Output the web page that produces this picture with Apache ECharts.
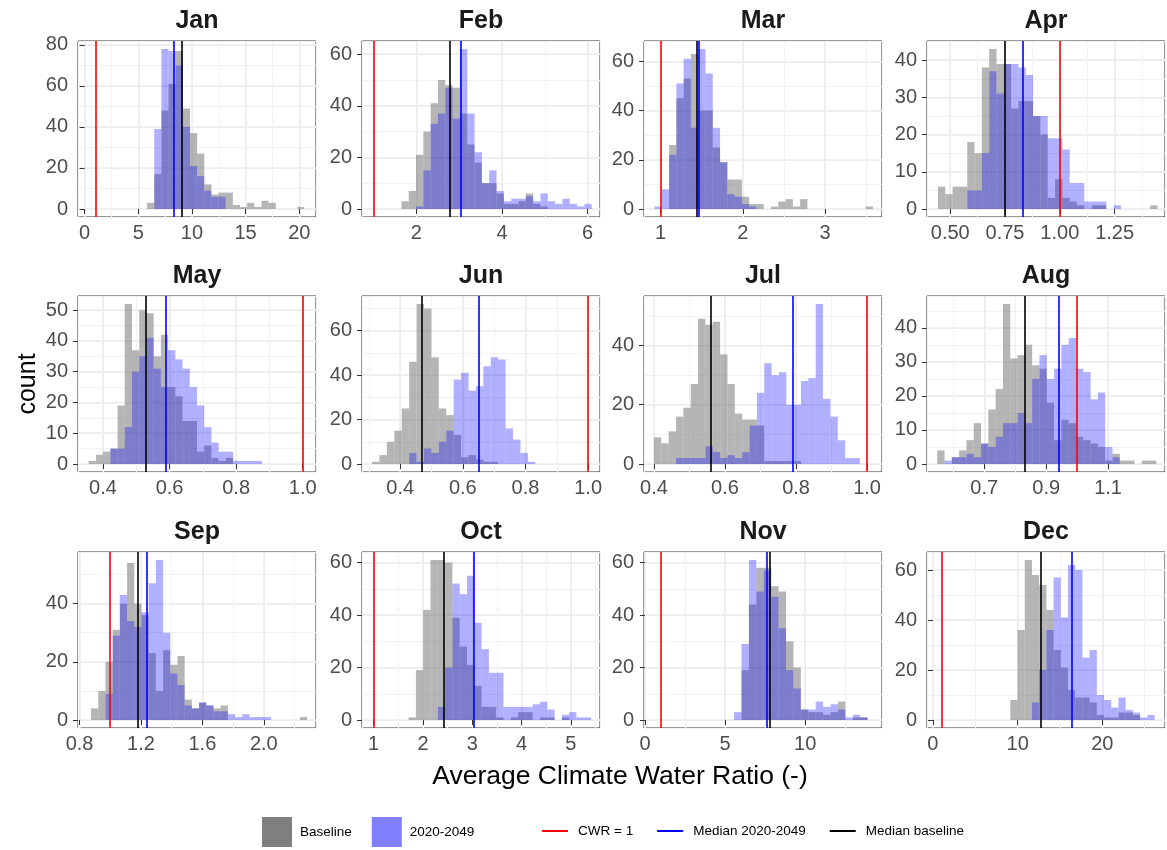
<!DOCTYPE html>
<html>
<head>
<meta charset="utf-8">
<script src="https://cdn.jsdelivr.net/npm/echarts@6/dist/echarts.min.js"></script>
<style>
  html, body { margin: 0; padding: 0; background: #fff; }
  #chart { width: 1167px; height: 850px; }
</style>
</head>
<body>
<div id="chart"></div>
<script>
const months = ['Jan', 'Feb', 'Mar', 'Apr', 'May', 'Jun', 'Jul', 'Aug', 'Sep', 'Oct', 'Nov', 'Dec'];

// left edge of the first drawn bin and the bin width, per month
const binStart = [5.82, 1.65, 0.928, 0.444, 0.357, 0.31, 0.40, 0.548, 0.875, 1.709, 5.56, 9.14];
const binWidth = [0.666, 0.171, 0.0884, 0.0334, 0.0217, 0.0237, 0.0207, 0.0236, 0.0469, 0.148, 0.463, 0.851];

// histogram counts, baseline period
const baseline = [
  [3, 17, 48, 61, 77, 49, 37, 27, 12, 7, 8, 8, 2, 1, 3, 1, 4, 3, 0, 0, 0, 1],
  [3, 7, 21, 30, 41, 50, 48, 47, 37, 25, 18, 10, 10, 6, 2, 2, 3, 6, 2, 1],
  [0, 0, 26, 45, 53, 63, 40, 40, 25, 19, 12, 12, 5, 2, 2, 0, 1, 3, 4, 1, 4, 0, 0, 0, 0, 0, 0, 0, 0, 1],
  [6, 4, 6, 6, 18, 15, 38, 43, 39, 39, 27, 29, 29, 25, 20, 3, 8, 3, 2, 1, 0, 1, 1, 0, 0, 0, 0, 0, 0, 1],
  [1, 3, 4, 5, 19, 52, 37, 50, 49, 35, 42, 25, 22, 14, 14, 4, 6, 2, 1, 2],
  [1, 4, 10, 15, 25, 46, 72, 70, 48, 25, 22, 13, 3, 4, 2, 1, 1],
  [9, 7, 11, 16, 19, 27, 49, 47, 48, 37, 27, 17, 15, 15, 13, 1, 1, 1, 1, 1],
  [4, 0, 2, 4, 7, 12, 6, 16, 22, 47, 31, 32, 35, 29, 28, 18, 7, 13, 12, 8, 7, 6, 5, 1, 3, 1, 1, 0, 1, 1],
  [4, 10, 20, 31, 40, 54, 40, 36, 23, 10, 24, 19, 22, 7, 4, 6, 5, 4, 5, 0, 0, 0, 0, 0, 0, 0, 0, 0, 0, 1],
  [1, 19, 42, 61, 61, 60, 39, 28, 21, 13, 5, 5, 1, 0, 1, 3, 3, 0, 1, 1, 0, 1],
  [0, 19, 44, 58, 58, 51, 49, 30, 20, 4, 3, 3, 2, 3, 7, 0, 1, 1],
  [8, 36, 64, 58, 54, 44, 28, 21, 12, 9, 9, 7, 2, 1, 1, 3, 3, 2]
];

// histogram counts, 2020-2049
const future = [
  [0, 39, 78, 77, 70, 40, 21, 16, 9, 6, 6],
  [0, 0, 1, 15, 33, 37, 47, 35, 62, 37, 22, 10, 15, 7, 3, 4, 4, 5, 3, 6, 3, 2, 4, 2, 1, 2],
  [1, 8, 22, 51, 61, 33, 65, 55, 33, 19, 6, 5, 2, 1],
  [0, 0, 0, 0, 5, 5, 15, 37, 31, 39, 39, 38, 36, 25, 25, 19, 19, 16, 7, 7, 2, 2, 2, 0, 1],
  [0, 0, 0, 5, 5, 12, 30, 35, 41, 31, 25, 37, 34, 31, 25, 19, 12, 7, 4, 4, 1, 1, 1, 1],
  [0, 0, 0, 0, 0, 5, 1, 7, 5, 10, 15, 38, 41, 33, 35, 44, 48, 47, 16, 11, 5, 1],
  [0, 0, 0, 2, 2, 2, 2, 6, 4, 2, 3, 2, 4, 13, 24, 34, 30, 31, 20, 20, 28, 29, 54, 22, 16, 8, 2, 2],
  [0, 1, 2, 2, 3, 2, 6, 5, 8, 12, 12, 15, 12, 25, 32, 25, 28, 35, 37, 28, 27, 19, 21, 5, 2],
  [0, 0, 9, 29, 43, 34, 32, 37, 47, 55, 30, 16, 12, 5, 4, 6, 5, 3, 3, 2, 1, 2, 1, 1, 1],
  [0, 0, 0, 0, 5, 20, 52, 48, 55, 37, 27, 18, 18, 5, 5, 5, 5, 6, 7, 4, 0, 2, 3, 1, 1],
  [3, 29, 61, 49, 57, 47, 35, 19, 12, 4, 4, 7, 5, 6, 4, 1, 2, 1],
  [0, 0, 0, 7, 20, 36, 57, 41, 62, 60, 25, 28, 10, 8, 5, 9, 4, 3, 1, 2]
];

const cwr = 1;
const medianFuture = [8.34, 3.03, 1.46, 0.826, 0.594, 0.647, 0.785, 0.945, 1.243, 3.03, 7.6, 16.4];
const medianBaseline = [9.02, 2.77, 1.44, 0.75, 0.533, 0.474, 0.564, 0.828, 1.178, 2.426, 7.81, 12.75];

// x axis limits, tick values and labels, step of the count axis
const xRange = [
  [-0.62, 21.56], [0.73, 6.29], [0.80, 3.69], [0.394, 1.48],
  [0.325, 1.04], [0.278, 1.038], [0.372, 1.042], [0.515, 1.284],
  [0.79, 2.34], [0.764, 5.59], [-0.06, 14.79], [-0.7, 27.4]
];
const xTicks = [
  [0, 5, 10, 15, 20], [2, 4, 6], [1, 2, 3], [0.5, 0.75, 1, 1.25],
  [0.4, 0.6, 0.8, 1.0], [0.4, 0.6, 0.8, 1.0], [0.4, 0.6, 0.8, 1.0], [0.7, 0.9, 1.1],
  [0.8, 1.2, 1.6, 2.0], [1, 2, 3, 4, 5], [0, 5, 10], [0, 10, 20]
];
const xLabels = [
  ['0', '5', '10', '15', '20'], ['2', '4', '6'], ['1', '2', '3'], ['0.50', '0.75', '1.00', '1.25'],
  ['0.4', '0.6', '0.8', '1.0'], ['0.4', '0.6', '0.8', '1.0'], ['0.4', '0.6', '0.8', '1.0'], ['0.7', '0.9', '1.1'],
  ['0.8', '1.2', '1.6', '2.0'], ['1', '2', '3', '4', '5'], ['0', '5', '10'], ['0', '10', '20']
];
const yStep = [20, 20, 20, 10, 10, 20, 20, 10, 20, 20, 20, 20];

const FONT = '"Liberation Sans", Arial, sans-serif';
const colLeft = [78, 362, 644, 927];
const rowTop = [41, 296, 552];
const panelW = 238, panelH = 176;

const chart = echarts.init(document.getElementById('chart'));

function drawBin(params, api) {
  const count = api.value(2);
  if (!count) return null;
  const p0 = api.coord([api.value(0), count]);
  const p1 = api.coord([api.value(1), 0]);
  return {
    type: 'rect',
    shape: { x: p0[0], y: p0[1], width: p1[0] - p0[0], height: p1[1] - p0[1] },
    style: api.style()
  };
}

function bins(i, counts) {
  return counts.map((c, k) => [binStart[i] + k * binWidth[i], binStart[i] + (k + 1) * binWidth[i], c]);
}

function vline(name, color, value, i) {
  return {
    name: name, type: 'line', xAxisIndex: 2 * i + 1, yAxisIndex: 2 * i + 1,
    color: color, data: [], silent: true,
    markLine: {
      silent: true, symbol: 'none', label: { show: false },
      lineStyle: { color: color, width: 1.6, type: 'solid' },
      emphasis: { disabled: true },
      data: [{ xAxis: value }]
    }
  };
}

const grids = [], xAxes = [], yAxes = [], series = [], graphics = [];

months.forEach((m, i) => {
  const left = colLeft[i % 4], top = rowTop[Math.floor(i / 4)];
  const ymax = Math.max(...baseline[i], ...future[i]);
  const yTicks = [];
  for (let v = 0; v <= ymax * 1.05; v += yStep[i]) yTicks.push(v);
  const xStep = xTicks[i][1] - xTicks[i][0];

  grids.push({
    left: left, top: top, width: panelW, height: panelH,
    show: true, borderColor: '#333', borderWidth: 1, backgroundColor: '#fff',
    containLabel: false, outerBoundsMode: 'none'
  });

  const xBase = { type: 'value', gridIndex: i, min: xRange[i][0], max: xRange[i][1] };
  const yBase = { type: 'value', gridIndex: i, min: -0.05 * ymax, max: 1.05 * ymax };
  const hidden = { axisLine: { show: false }, axisTick: { show: false }, axisLabel: { show: false } };

  // minor grid lines
  xAxes.push(Object.assign({}, xBase, hidden, {
    position: 'top', minInterval: xStep / 2, maxInterval: xStep / 2,
    splitLine: { show: true, lineStyle: { color: '#F2F2F2', width: 1 } }
  }));
  yAxes.push(Object.assign({}, yBase, hidden, {
    position: 'right', minInterval: yStep[i] / 2, maxInterval: yStep[i] / 2,
    splitLine: { show: true, lineStyle: { color: '#F2F2F2', width: 1 } }
  }));
  // major ticks, labels, grid lines
  xAxes.push(Object.assign({}, xBase, {
    position: 'bottom', minInterval: xStep, maxInterval: xStep,
    axisLine: { show: false },
    axisTick: { show: true, length: 5, customValues: xTicks[i], lineStyle: { color: '#333' } },
    axisLabel: {
      customValues: xTicks[i], color: '#4D4D4D', fontSize: 20, fontFamily: FONT, margin: 6,
      formatter: v => {
        const k = xTicks[i].findIndex(t => Math.abs(t - v) < 1e-9);
        return k < 0 ? '' : xLabels[i][k];
      }
    },
    splitLine: { show: true, lineStyle: { color: '#EBEBEB', width: 1.5 } }
  }));
  yAxes.push(Object.assign({}, yBase, {
    position: 'left', minInterval: yStep[i], maxInterval: yStep[i],
    axisLine: { show: false },
    axisTick: { show: true, length: 5, customValues: yTicks, lineStyle: { color: '#333' } },
    axisLabel: {
      customValues: yTicks, color: '#4D4D4D', fontSize: 20, fontFamily: FONT, margin: 10,
      formatter: v => (yTicks.some(t => Math.abs(t - v) < 1e-9) ? String(Math.round(v)) : '')
    },
    splitLine: { show: true, lineStyle: { color: '#EBEBEB', width: 1.5 } }
  }));

  series.push({
    name: 'Baseline', type: 'custom', xAxisIndex: 2 * i + 1, yAxisIndex: 2 * i + 1,
    renderItem: drawBin, encode: { x: [0, 1], y: 2 }, silent: true,
    itemStyle: { color: 'rgba(128,128,128,0.58)' },
    data: bins(i, baseline[i])
  });
  series.push({
    name: '2020-2049', type: 'custom', xAxisIndex: 2 * i + 1, yAxisIndex: 2 * i + 1,
    renderItem: drawBin, encode: { x: [0, 1], y: 2 }, silent: true,
    itemStyle: { color: 'rgba(0,0,255,0.31)' },
    data: bins(i, future[i])
  });
  series.push(vline('CWR = 1', '#FF0000', cwr, i));
  series.push(vline('Median 2020-2049', '#0000FF', medianFuture[i], i));
  series.push(vline('Median baseline', '#000000', medianBaseline[i], i));

  graphics.push({
    type: 'text', x: left + panelW / 2, y: top - 20, silent: true,
    style: { text: m, fontSize: 25, fontWeight: 'bold', fontFamily: FONT, fill: '#1A1A1A', align: 'center', verticalAlign: 'middle' }
  });
});

graphics.push({
  type: 'text', x: 620, y: 777, silent: true,
  style: { text: 'Average Climate Water Ratio (-)', fontSize: 26.5, fontFamily: FONT, fill: '#000', align: 'center', verticalAlign: 'middle' }
});
graphics.push({
  type: 'text', x: 28, y: 384, rotation: Math.PI / 2, silent: true,
  style: { text: 'count', fontSize: 25, fontFamily: FONT, fill: '#000', align: 'center', verticalAlign: 'middle' }
});

chart.setOption({
  animation: false,
  backgroundColor: '#fff',
  grid: grids,
  xAxis: xAxes,
  yAxis: yAxes,
  series: series,
  graphic: graphics,
  legend: [
    {
      left: 262, top: 817, padding: 0, icon: 'rect', itemWidth: 30, itemHeight: 30, itemGap: 20,
      textStyle: { fontSize: 13.5, fontFamily: FONT, color: '#000', padding: [0, 0, 0, 3] },
      selectedMode: false,
      data: [
        { name: 'Baseline', itemStyle: { color: '#7F7F7F' } },
        { name: '2020-2049', itemStyle: { color: '#8080FF' } }
      ]
    },
    {
      left: 542, top: 824, padding: 0, icon: 'rect', itemWidth: 26, itemHeight: 2, itemGap: 24,
      textStyle: { fontSize: 13.5, fontFamily: FONT, color: '#000', padding: [0, 0, 0, 5] },
      selectedMode: false,
      data: ['CWR = 1', 'Median 2020-2049', 'Median baseline']
    }
  ]
});

window.addEventListener('resize', function () {
  chart.resize();
});
</script>
</body>
</html>
